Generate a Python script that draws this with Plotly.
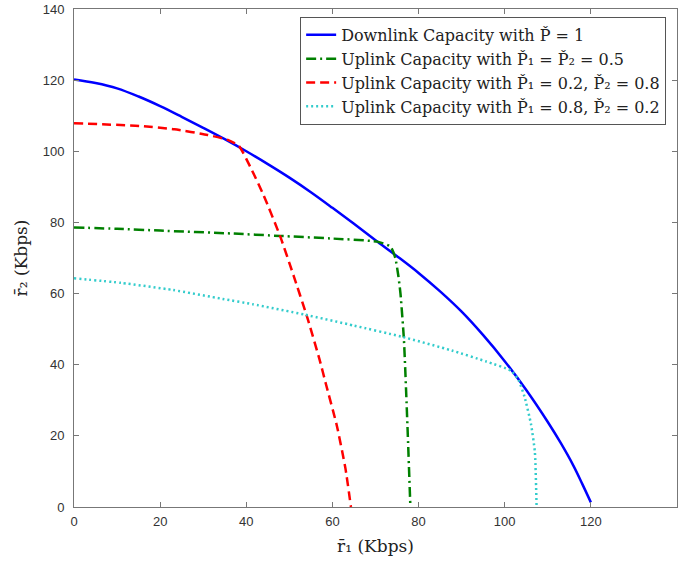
import plotly.graph_objects as go

# Downlink capacity with P = 1
dl_r1 = [0, 5, 10, 15, 20, 25, 30, 35, 40, 45, 50, 55, 60, 65, 70, 75, 80, 85, 90, 95, 100, 105, 110, 113, 116, 118, 120]
dl_r2 = [120.2, 119.2, 117.7, 115.4, 112.7, 109.7, 106.6, 103.4, 100.0, 96.4, 92.6, 88.5, 84.1, 79.6,
         75.0, 70.5, 65.8, 60.6, 54.9, 48.3, 41.0, 32.9, 23.9, 18.0, 11.5, 6.5, 1.3]

# Uplink P1 = P2 = 0.5
g_r1 = [0, 10, 20, 36.3, 47.9, 59.5, 70.4, 73.5, 74.6, 75.3, 75.8, 76.6, 77.4, 78.1]
g_r2 = [78.6, 78.2, 77.7, 76.9, 76.2, 75.5, 74.6, 73.2, 70, 65, 60, 47, 23.5, 0]

# Uplink P1 = 0.2, P2 = 0.8
r_r1 = [0, 15.5, 23.3, 31, 35.7, 38.3, 40.9, 44, 47.9, 51, 54.1, 57, 58.5, 61, 63, 64.3]
r_r2 = [107.9, 107.1, 106.2, 104.6, 103.2, 101.5, 95.7, 87.7, 76, 65, 53.5, 41.5, 34.5, 23, 11, 0]

# Uplink P1 = 0.8, P2 = 0.2
c_r1 = [0, 11, 23, 34.5, 41.5, 53.5, 65, 76, 87.7, 95.7, 101.5, 103.2, 104.6, 106.1, 107.0, 107.4]
c_r2 = [64.3, 63, 61, 58.5, 57, 54.1, 51, 47.9, 44, 40.9, 38.3, 35.7, 31, 23.3, 15.5, 0]

names = [
    "Downlink Capacity with P\u030C = 1",
    "Uplink Capacity with P\u030C\u2081 = P\u030C\u2082 = 0.5",
    "Uplink Capacity with P\u030C\u2081 = 0.2, P\u030C\u2082 = 0.8",
    "Uplink Capacity with P\u030C\u2081 = 0.8, P\u030C\u2082 = 0.2",
]
x_ticks = [0, 20, 40, 60, 80, 100, 120, 140]
y_ticks = [0, 20, 40, 60, 80, 100, 120, 140]

fig = go.Figure()
fig.add_trace(go.Scatter(x=dl_r1, y=dl_r2, mode="lines", name=names[0],
                         line=dict(color="#0000ff", width=2.5, shape="spline", smoothing=1.0)))
fig.add_trace(go.Scatter(x=g_r1, y=g_r2, mode="lines", name=names[1],
                         line=dict(color="#008000", width=2.5, dash="10px,4px,2px,4px",
                                   shape="spline", smoothing=0.5)))
fig.add_trace(go.Scatter(x=r_r1, y=r_r2, mode="lines", name=names[2],
                         line=dict(color="#ff0000", width=2.5, dash="9px,5px",
                                   shape="spline", smoothing=0.5)))
fig.add_trace(go.Scatter(x=c_r1, y=c_r2, mode="lines", name=names[3],
                         line=dict(color="#33cccc", width=2.5, dash="2px,3px",
                                   shape="spline", smoothing=0.5)))

axis_common = dict(range=[0, 140], showgrid=False, zeroline=False, showline=True,
                   linecolor="#777777", linewidth=1, mirror="ticks", ticks="inside",
                   ticklen=5, tickcolor="#777777", automargin=False,
                   tickfont=dict(family="Liberation Sans, Arial", size=13, color="#333333"))

fig.update_xaxes(**axis_common, tickvals=x_ticks, ticklabelstandoff=2,
                 title=dict(text="r\u0304\u2081 (Kbps)", standoff=12,
                            font=dict(family="DejaVu Serif", size=17, color="#222222")))
fig.update_yaxes(**axis_common, tickvals=y_ticks, ticklabelstandoff=6,
                 title=dict(text="r\u0304\u2082 (Kbps)", standoff=10,
                            font=dict(family="DejaVu Serif", size=17, color="#222222")))

fig.update_layout(
    width=684, height=561,
    margin=dict(l=74, r=7, t=9, b=54),
    plot_bgcolor="white", paper_bgcolor="white",
    legend=dict(x=0.982, y=0.984, xanchor="right", yanchor="top",
                bgcolor="white", bordercolor="#555555", borderwidth=1,
                font=dict(family="DejaVu Serif", size=16, color="#222222"),
                tracegroupgap=0, itemwidth=30),
)

fig.write_html("out.html", config={"displayModeBar": False},
               post_script="document.body.style.margin='0';document.body.style.overflow='hidden';")
